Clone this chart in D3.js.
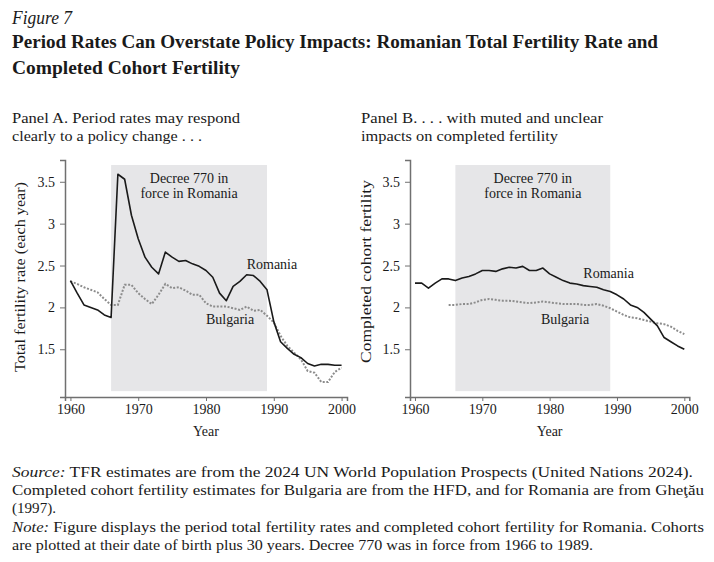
<!DOCTYPE html>
<html>
<head>
<meta charset="utf-8">
<script src="https://cdn.jsdelivr.net/npm/d3@7"></script>
<style>
    body { margin: 0; background: #fff; }
    svg { display: block; font-family: "Liberation Serif", "DejaVu Serif", serif; }
</style>
</head>
<body>
<svg id="fig" width="714" height="562"></svg>
<script>
// data
let years = d3.range(1960, 2001);
let roTfr = [2.32, 2.17, 2.03, 2.00, 1.97, 1.91, 1.88, 3.59, 3.53, 3.10,
    2.82, 2.60, 2.48, 2.40, 2.66, 2.60, 2.55, 2.56, 2.52, 2.49,
    2.44, 2.36, 2.17, 2.08, 2.25, 2.31, 2.39, 2.38, 2.31, 2.21,
    1.83, 1.59, 1.51, 1.44, 1.40, 1.33, 1.30, 1.32, 1.32, 1.31, 1.31];
let bgTfr = [2.31, 2.28, 2.24, 2.21, 2.18, 2.10, 2.03, 2.03, 2.27, 2.27,
    2.17, 2.10, 2.04, 2.15, 2.28, 2.23, 2.24, 2.20, 2.15, 2.15,
    2.05, 2.01, 2.01, 2.01, 1.99, 1.97, 2.01, 1.96, 1.97, 1.90,
    1.82, 1.66, 1.54, 1.46, 1.38, 1.24, 1.22, 1.11, 1.11, 1.23, 1.28];
let roCohort = [2.29, 2.29, 2.23, 2.29, 2.34, 2.34, 2.32, 2.35, 2.37, 2.40,
    2.44, 2.44, 2.43, 2.46, 2.48, 2.47, 2.49, 2.44, 2.44, 2.47,
    2.40, 2.36, 2.32, 2.29, 2.28, 2.26, 2.25, 2.24, 2.21, 2.19,
    2.15, 2.10, 2.03, 2.00, 1.94, 1.86, 1.78, 1.64, 1.59, 1.54, 1.50];
let bgCohortYears = d3.range(1965, 2001);
let bgCohort = [2.03, 2.03, 2.04, 2.04, 2.06,
    2.09, 2.10, 2.09, 2.08, 2.08, 2.07, 2.06, 2.05, 2.06, 2.07,
    2.06, 2.05, 2.04, 2.04, 2.04, 2.03, 2.03, 2.04, 2.02, 1.99,
    1.95, 1.91, 1.88, 1.87, 1.85, 1.83, 1.81, 1.80, 1.77, 1.72, 1.68];
let decree = [1966, 1989];
let xTicks = [1960, 1970, 1980, 1990, 2000];
let yTicks = [1.5, 2, 2.5, 3, 3.5];

let svg = d3.select("#fig");

// plain text helper, optionally stretched to a measured width
function txt(str, x, y, size, w, extra) {
    let t = svg.append("text")
        .attr("x", x).attr("y", y)
        .attr("font-size", size)
        .attr("fill", "#1a1a1a")
        .text(str);
    if (w) t.attr("textLength", w).attr("lengthAdjust", "spacingAndGlyphs");
    if (extra) extra(t);
    return t;
}

// header
txt("Figure 7", 12, 24, 18, 60, t => t.attr("font-style", "italic"));
txt("Period Rates Can Overstate Policy Impacts: Romanian Total Fertility Rate and", 12, 47.5, 18, 646, t => t.attr("font-weight", "bold"));
txt("Completed Cohort Fertility", 12, 73.5, 18, 228, t => t.attr("font-weight", "bold"));
txt("Panel A. Period rates may respond", 12, 123, 14, 228);
txt("clearly to a policy change . . .", 12, 141, 14, 190);
txt("Panel B.  . . . with muted and unclear", 361, 123, 14, 242);
txt("impacts on completed fertility", 361, 141, 14, 197);

function drawPanel(p) {
    let x = d3.scaleLinear().domain(p.xDomain).range(p.xRange);
    let y = d3.scaleLinear().domain([0.93, 3.76]).range([397, 160]);
    let g = svg.append("g");

    g.append("rect")
        .attr("x", x(decree[0]))
        .attr("width", x(decree[1]) - x(decree[0]))
        .attr("y", y(3.7))
        .attr("height", y(1.0) - y(3.7))
        .attr("fill", "#e6e6e8");

    let line = d3.line().x(d => x(d[0])).y(d => y(d[1]));
    g.append("path")
        .datum(p.bg)
        .attr("d", line)
        .attr("fill", "none")
        .attr("stroke", "#8c8c8c")
        .attr("stroke-width", 2)
        .attr("stroke-dasharray", "2,1.6");
    g.append("path")
        .datum(p.ro)
        .attr("d", line)
        .attr("fill", "none")
        .attr("stroke", "#1a1a1a")
        .attr("stroke-width", 1.6)
        .attr("stroke-linejoin", "round");

    let yAx = g.append("g")
        .attr("transform", `translate(${p.xRange[0]},0)`)
        .call(d3.axisLeft(y).tickValues(yTicks).tickSize(5).tickPadding(5).tickFormat(d3.format("")));
    let xAx = g.append("g")
        .attr("transform", "translate(0,397)")
        .call(d3.axisBottom(x).tickValues(xTicks).tickSize(4).tickPadding(3).tickFormat(d3.format("")));
    [yAx, xAx].forEach(a => {
        a.attr("font-family", null).attr("font-size", 14);
        a.select(".domain").attr("stroke", "#707070").attr("stroke-width", 1.5);
        a.selectAll(".tick line").attr("stroke", "#707070").attr("stroke-width", 1);
        a.selectAll(".tick text").attr("fill", "#1a1a1a");
    });

    // axis titles
    svg.append("text")
        .attr("transform", `translate(${p.yTitleX},${p.yTitleY}) rotate(-90)`)
        .attr("text-anchor", "middle")
        .attr("font-size", 15)
        .attr("fill", "#1a1a1a")
        .attr("textLength", p.yTitleW)
        .attr("lengthAdjust", "spacingAndGlyphs")
        .text(p.yTitle);
    txt("Year", (p.xRange[0] + p.xRange[1]) / 2 + 0, 436, 14, null, t => t.attr("text-anchor", "middle"));

    // annotations
    let mid = x((decree[0] + decree[1]) / 2);
    txt("Decree 770 in", mid, y(3.7) + 18, 14, null, t => t.attr("text-anchor", "middle"));
    txt("force in Romania", mid, y(3.7) + 32.5, 14, null, t => t.attr("text-anchor", "middle"));
    txt("Romania", x(p.roLabel[0]), y(p.roLabel[1]), 14);
    txt("Bulgaria", x(p.bgLabel[0]), y(p.bgLabel[1]), 14);
}

drawPanel({
    xDomain: [1959.2, 2000.8], xRange: [65, 347],
    ro: years.map((yr, i) => [yr, roTfr[i]]),
    bg: years.map((yr, i) => [yr, bgTfr[i]]),
    yTitle: "Total fertility rate (each year)", yTitleX: 25, yTitleY: 277, yTitleW: 190,
    roLabel: [1986, 2.458], bgLabel: [1980, 1.802]
});
drawPanel({
    xDomain: [1959.26, 2000.74], xRange: [410, 689.3],
    ro: years.map((yr, i) => [yr, roCohort[i]]),
    bg: bgCohortYears.map((yr, i) => [yr, bgCohort[i]]),
    yTitle: "Completed cohort fertility", yTitleX: 371, yTitleY: 271.5, yTitleW: 183,
    roLabel: [1985, 2.354], bgLabel: [1978.7, 1.802]
});

// notes, justified by stretching word spacing
function note(parts, y, w) {
    let t = svg.append("text")
        .attr("x", 12).attr("y", y)
        .attr("font-size", 14)
        .attr("fill", "#1a1a1a");
    parts.forEach(pt => {
        let s = t.append("tspan").text(pt[0]);
        if (pt[1]) s.attr("font-style", "italic");
    });
    if (w) t.attr("textLength", w).attr("lengthAdjust", "spacingAndGlyphs");
}
note([["Source:", 1], [" TFR estimates are from the 2024 UN World Population Prospects (United Nations 2024)."]], 477, 681);
note([["Completed cohort fertility estimates for Bulgaria are from the HFD, and for Romania are from Gheţău"]], 495, 692);
note([["(1997)."]], 513, 44);
note([["Note:", 1], [" Figure displays the period total fertility rates and completed cohort fertility for Romania. Cohorts"]], 532, 692);
note([["are plotted at their date of birth plus 30 years. Decree 770 was in force from 1966 to 1989."]], 550, 581);
</script>
</body>
</html>
